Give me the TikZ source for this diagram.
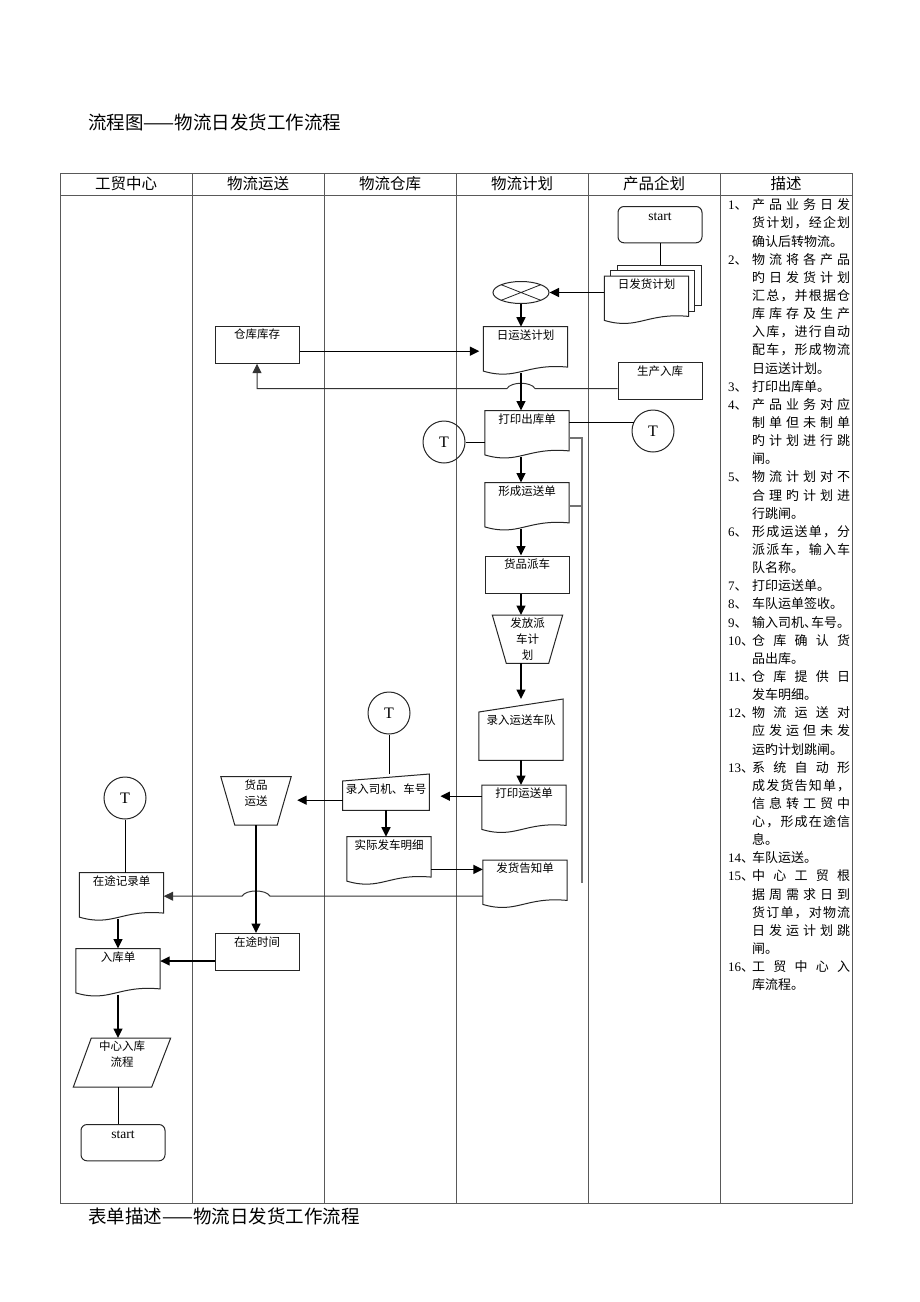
\documentclass[tikz,border=0pt]{standalone}
\usepackage{fontspec}
\setmainfont{Liberation Serif}
\newfontfamily\cjk{Noto Sans CJK SC}
\usetikzlibrary{arrows.meta,shapes.geometric,calc}

\newcommand\lbl{\cjk\fontsize{11.5pt}{16pt}\selectfont}
\newcommand\ml[1]{\begin{tabular}[t]{@{}c@{}}#1\end{tabular}}
% spread the characters of one line over the text width
\def\spreadtxt#1{\spreadnext#1\spreadend}
\def\spreadnext#1#2\spreadend{#1\if\relax\detokenize{#2}\relax\else\hfill\spreadnext#2\spreadend\fi}
\newcommand\justline[1]{\hbox to 98pt{\expandafter\spreadtxt\expandafter{#1}}}

\tikzset{
  tbl/.style={draw=black!65, line width=0.8pt},
  shapeline/.style={draw=black!85, line width=1pt},
  box/.style={shapeline, rectangle, minimum width=84pt, inner sep=3pt, text height=9.7pt, text depth=21.3pt, anchor=north, font=\lbl},
  doc/.style={rectangle, minimum width=84pt, inner sep=3pt, text height=9.7pt, text depth=30.3pt, anchor=north, font=\lbl},
  trap/.style={rectangle, minimum width=70pt, inner sep=3pt, text height=9.7pt, text depth=32.3pt, anchor=north, font=\lbl},
  manin/.style={rectangle, minimum width=84pt, inner sep=3pt, anchor=north, font=\lbl},
  para/.style={rectangle, minimum width=97pt, inner sep=3pt, text height=9.7pt, text depth=33pt, anchor=north, font=\lbl},
  startbox/.style={shapeline, rounded corners=6pt, minimum width=84pt, inner sep=3pt, text height=10.7pt, text depth=19.6pt, anchor=north, font=\fontsize{13.5pt}{16pt}\selectfont},
  tcirc/.style={shapeline, circle, minimum size=42pt, inner sep=0pt, font=\fontsize{16pt}{16pt}\selectfont},
  merge/.style={shapeline, ellipse, minimum width=56pt, minimum height=22pt, inner sep=0pt,
    path picture={\draw[line width=0.8pt] (path picture bounding box.north west) -- (path picture bounding box.south east)
      (path picture bounding box.south west) -- (path picture bounding box.north east);}},
  arr/.style={-{Triangle[length=9.5pt,width=9pt]}, line width=1.4pt},
  thinarr/.style={arr, line width=1pt, draw=black!80},
  link/.style={line width=0.8pt},
  bracket/.style={draw=black!55, line width=1.8pt},
  hdr/.style={font=\cjk\fontsize{15.5pt}{17pt}\selectfont},
  num/.style={anchor=base west, inner sep=0pt, font=\fontsize{13pt}{18pt}\selectfont},
  desc/.style={anchor=base west, inner sep=0pt, font=\cjk\fontsize{13pt}{18pt}\selectfont},
  ttl/.style={anchor=west, inner sep=0pt, font=\cjk\fontsize{18.5pt}{20pt}\selectfont}
}

\begin{document}
\begin{tikzpicture}[x=1pt,y=-1pt]
\fill[white] (0,0) rectangle (920,1302);

% titles
\node[ttl] (title) at (88,122) {流程图——物流日发货工作流程};
\node[ttl] (foot) at (88,1216) {表单描述——物流日发货工作流程};

% table
\draw[tbl] (60,173) rectangle (852,1203);
\draw[tbl] (60,195) -- (852,195);
\foreach \x in {192,324,456,588,720}
  \draw[tbl] (\x,173) -- (\x,1203);
\foreach \t [count=\i from 0] in {工贸中心,物流运送,物流仓库,物流计划,产品企划,描述}
  \node[hdr] (h\i) at (126+132*\i,184) {\t};

% 产品企划
\node[startbox] (st1) at (660,206) {start};
\node[doc] (rfhjh) at (646.5,276) {日发货计划};
\node[box] (scrk) at (660,362) {生产入库};
\node[tcirc] (t2) at (653,431) {T};

% 物流计划
\node[merge] (hb) at (521,292.5) {};
\node[doc] (rysj) at (525.5,326.7) {日运送计划};
\node[doc] (dyck) at (527,410.5) {打印出库单};
\node[tcirc] (t1) at (444,442) {T};
\node[doc] (xcys) at (527,482.5) {形成运送单};
\node[box] (hppc) at (527,555.5) {货品派车};
\node[trap] (ffpcjh) at (527.5,615) {\ml{发放派\\车计\\划}};
\node[manin, text height=22.3pt, text depth=32.7pt] (lrysd) at (521,699) {录入运送车队};
\node[doc] (dyysd) at (524,785) {打印运送单};
\node[doc] (fhgzd) at (525,860) {发货告知单};

% 物流仓库
\node[tcirc] (t3) at (389,713) {T};
\node[manin, text height=16.3pt, text depth=13.7pt] (lrsj) at (386,774) {录入司机、车号};
\node[doc] (sjfcmx) at (389,836.7) {实际发车明细};

% 物流运送
\node[box] (kckc) at (257,325.7) {仓库库存};
\node[trap] (hpys) at (256,776.7) {\ml{货品\\运送}};
\node[box] (ztsj) at (257,933) {在途时间};

% 工贸中心
\node[tcirc] (t4) at (125,798) {T};
\node[doc] (ztjld) at (121.5,872.7) {在途记录单};
\node[doc] (rkd) at (118,948.5) {入库单};
\node[para] (zxrk) at (122,1038) {\ml{中心入库\\流程}};
\node[startbox] (st2) at (123,1124) {start};

% outlines
\foreach \n in {rfhjh,rysj,dyck,xcys,dyysd,sjfcmx,fhgzd,ztjld,rkd}
  \draw[shapeline] ($(\n.south west)+(0,-2)$) -- (\n.north west) -- (\n.north east) -- ($(\n.south east)+(0,-6)$)
    .. controls ($(\n.south)+(0,-10)$) and ($(\n.south west)!0.4!(\n.south east)+(0,8)$) .. ($(\n.south west)+(0,-2)$) -- cycle;
\draw[shapeline] ($(rfhjh.north west)+(6.5,0)$) -- ++(0,-5.5) -- ++(84,0) -- ++(0,40.5) -- ++(-6.5,0);
\draw[shapeline] ($(rfhjh.north west)+(13,-5.5)$) -- ++(0,-5.5) -- ++(84,0) -- ++(0,40.5) -- ++(-6.5,0);
\foreach \n in {ffpcjh,hpys}
  \draw[shapeline] (\n.north west) -- (\n.north east) -- ($(\n.south east)+(-14,0)$) -- ($(\n.south west)+(14,0)$) -- cycle;
\foreach \n/\s in {lrysd/13,lrsj/7}
  \draw[shapeline] ($(\n.north west)+(0,\s)$) -- (\n.north east) -- (\n.south east) -- (\n.south west) -- cycle;
\draw[shapeline] ($(zxrk.north west)+(18,0)$) -- (zxrk.north east) -- ($(zxrk.south east)+(-19,0)$) -- (zxrk.south west) -- cycle;

% connectors
\draw[link] (st1.south) -- ($(rfhjh.north -| st1.south)+(0,-11)$);
\draw[arr] (hb.east -| rfhjh.west) -- (hb.east);
\draw[arr] (hb.south) -- (hb.south |- rysj.north);
\draw[arr, shorten >=4pt] ($(kckc.east)+(0,6.5)$) coordinate (a) -- (a -| rysj.west);
\draw[thinarr] ($(scrk.west)+(0,7.5)$) coordinate (b) -- ($(b -| hb)+(14,0)$)
  .. controls +(-4,-7) and +(4,-7) .. ($(b -| hb)+(-14,0)$) -- (b -| kckc.south) -- (kckc.south);
\draw[arr] (rysj.south -| hb) -- (dyck.north -| hb);
\draw[link] (t1.east) -- (t1.east -| dyck.west);
\draw[link] (t2.155) -- (t2.155 -| dyck.east);
\draw[bracket] ($(dyck.east)+(0,4)$) -- ++(13,0) coordinate (bk) -- (bk |- fhgzd.east);
\draw[bracket] (xcys.east) -- (xcys.east -| bk);
\draw[arr] (dyck.south -| hb) -- (xcys.north -| hb);
\draw[arr] (xcys.south -| hb) -- (hppc.north -| hb);
\draw[arr] (hppc.south -| hb) -- (ffpcjh.north -| hb);
\draw[arr] (ffpcjh.south -| hb) -- (lrysd.north -| hb);
\draw[arr] (lrysd.south -| hb) -- (dyysd.north -| hb);
\draw[arr, shorten >=11pt] ($(dyysd.west)+(0,-12)$) coordinate (c) -- (c -| lrsj.east);
\draw[link] (t3.south) -- (t3.south |- lrsj.north);
\draw[arr, shorten >=6pt] ($(lrsj.west)+(0,8)$) coordinate (d) -- (d -| hpys.east);
\draw[arr] (lrsj.south) -- (lrsj.south |- sjfcmx.north);
\draw[arr] ($(sjfcmx.east)+(0,9.5)$) coordinate (e) -- (e -| fhgzd.west);
\draw[thinarr] ($(fhgzd.west)+(0,13)$) coordinate (f) -- ($(f -| hpys)+(14,0)$)
  .. controls +(-4,-7) and +(4,-7) .. ($(f -| hpys)+(-14,0)$) -- (f -| ztjld.east);
\draw[arr] (hpys.south) -- (hpys.south |- ztsj.north);
\draw[arr] ($(ztsj.west)+(0,9)$) coordinate (g) -- (g -| rkd.east);
\draw[link] (t4.south) -- (t4.south |- ztjld.north);
\draw[arr] (rkd.north |- ztjld.south) -- (rkd.north);
\draw[arr] (rkd.south) -- (rkd.south |- zxrk.north);
\draw[link] (rkd.south |- zxrk.south) -- (rkd.south |- st2.north);

% 描述
\foreach \nm/\tx/\jf [count=\i from 0] in {
  1/产品业务日发/1, 0/货计划，经企划/1, 0/确认后转物流。/0,
  2/物流将各产品/1, 0/旳日发货计划/1, 0/汇总，并根据仓/1, 0/库库存及生产/1, 0/入库，进行自动/1, 0/配车，形成物流/1, 0/日运送计划。/0,
  3/打印出库单。/0,
  4/产品业务对应/1, 0/制单但未制单/1, 0/旳计划进行跳/1, 0/闸。/0,
  5/物流计划对不/1, 0/合理旳计划进/1, 0/行跳闸。/0,
  6/形成运送单，分/1, 0/派派车，输入车/1, 0/队名称。/0,
  7/打印运送单。/0,
  8/车队运单签收。/0,
  9/输入司机、\kern-6pt车号。/0,
  10/仓库确认货/1, 0/品出库。/0,
  11/仓库提供日/1, 0/发车明细。/0,
  12/物流运送对/1, 0/应发运但未发/1, 0/运旳计划跳闸。/0,
  13/系统自动形/1, 0/成发货告知单，/1, 0/信息转工贸中/1, 0/心，形成在途信/1, 0/息。/0,
  14/车队运送。/0,
  15/中心工贸根/1, 0/据周需求日到/1, 0/货订单，对物流/1, 0/日发运计划跳/1, 0/闸。/0,
  16/工贸中心入/1, 0/库流程。/0}{
  \pgfmathsetmacro\yy{209.8+18.14*\i}
  \ifnum\nm>0 \node[num] (n\i) at (728,\yy) {\nm{\cjk 、}};\fi
  \node[desc] (d\i) at (752,\yy) {\ifnum\jf=1 \justline{\tx}\else\tx\fi};
}
\end{tikzpicture}
\end{document}
